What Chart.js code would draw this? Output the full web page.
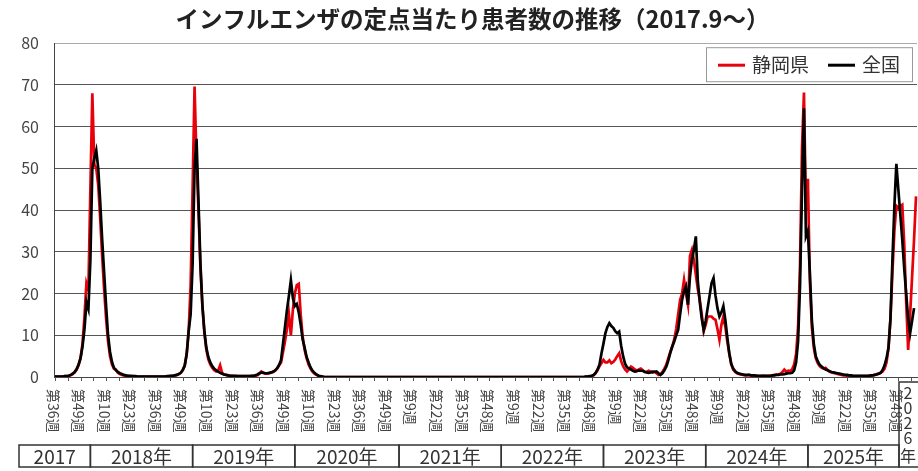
<!DOCTYPE html>
<html>
<head>
<meta charset="utf-8">
<script src="https://cdn.jsdelivr.net/npm/chart.js@4"></script>
<style>
html,body{margin:0;padding:0;background:#fff;}
#wrap{width:918px;height:471px;position:relative;}
</style>
</head>
<body>
<div id="wrap"><canvas id="c" width="918" height="471"></canvas></div>
<script>
// ---------------- DATA ----------------
const TITLE = 'インフルエンザの定点当たり患者数の推移（2017.9～）';
const SERIES_NAMES = ['静岡県', '全国'];
const YEAR_NAMES = ['2017', '2018年', '2019年', '2020年', '2021年', '2022年', '2023年', '2024年', '2025年', '2026年'];
const START_WEEK = 36;      // first week of 2017 shown
const LABEL_STEP = 13;      // a week label every 13 weeks
const Y_TICKS = [0, 10, 20, 30, 40, 50, 60, 70, 80];

// 静岡県 (weekly, per sentinel)
const shizuoka2017 = [0.1,0.1,0.1,0.1,0.1,0.2,0.2,0.3,0.4,0.7,1.1,1.7,2.8,4.5,8.0,14.5,22.5];
const shizuoka2018 = [21,45,68,51,50,46,38,29,21,14,
  8.5,5,3.0,2.0,1.8,1.0,0.7,0.5,0.4,0.3,
  0.3,0.2,0.2,0.2,0.1,0.1,0.1,0.1,0.1,0.1,
  0.1,0.1,0.1,0.1,0.1,0.1,0.1,0.1,0.1,0.1,
  0.1,0.2,0.2,0.3,0.4,0.5,0.7,1.0,1.6,2.8,
  5.5,11];
const shizuoka2019 = [22,45,69.6,52,40,26,17,10.5,6.5,4.2,
  3.0,2.2,1.6,1.3,1.5,2.8,1.0,0.6,0.5,0.4,
  0.3,0.3,0.2,0.2,0.2,0.2,0.2,0.2,0.2,0.2,
  0.2,0.2,0.3,0.3,0.4,0.8,1.3,1.0,0.8,0.8,
  0.9,1.0,1.2,1.5,2.0,2.8,3.5,6,8.5,11.5,
  15,10];
const shizuoka2020 = [16,20,22,22.3,15,9.7,6.5,4.5,3.0,2.0,
  1.3,0.8,0.5,0.3,0.1,0.1,0,0,0,0,
  0,0,0,0,0,0,0,0,0,0,
  0,0,0,0,0,0,0,0,0,0,
  0,0,0,0,0,0,0,0,0,0,
  0,0,0];
const shizuoka2021 = [0,0,0,0,0,0,0,0,0,0,
  0,0,0,0,0,0,0,0,0,0,
  0,0,0,0,0,0,0,0,0,0,
  0,0,0,0,0,0,0,0,0,0,
  0,0,0,0,0,0,0,0,0,0,
  0,0];
const shizuoka2022 = [0,0,0,0,0,0,0,0,0,0,
  0,0,0,0,0,0,0,0,0,0,
  0,0,0,0,0,0,0,0,0,0,
  0,0,0,0,0,0,0,0,0,0,
  0,0,0,0,0.1,0.1,0.1,0.2,0.4,0.9,
  1.6,2.6];
const shizuoka2023 = [3.3,4.1,3.5,3.5,4.0,3.3,3.6,4.2,5.0,5.7,
  3.8,2.6,1.8,1.3,1.8,2.5,2.2,1.8,1.5,1.8,
  2.0,1.6,1.3,1.2,1.5,1.3,1.1,1.3,0.9,0.5,
  0.7,1.2,2.0,3.0,4.5,6.0,7.3,9.0,11.5,15.0,
  18.5,20.0,23.3,20.0,17.3,29.0,30.5,28.0,24.5,21.0,
  18.5,15.0];
const shizuoka2024 = [11.0,12.5,14.5,14.5,14.5,14.0,13.7,11.5,8.9,12.5,
  14.5,12.0,8.5,5.7,3.0,1.8,1.2,0.9,0.7,0.6,
  0.5,0.4,0.4,0.5,0.4,0.3,0.3,0.3,0.2,0.2,
  0.3,0.3,0.2,0.3,0.3,0.4,0.5,0.6,0.6,0.8,
  1.2,1.8,1.3,1.5,1.4,1.9,3.0,5.5,12,27,
  55,68.2];
const shizuoka2025 = [40,47.5,23,12,7,4.5,3.3,2.6,2.2,2.0,
  2.2,1.7,1.3,1.1,1.0,0.9,0.7,0.6,0.5,0.4,
  0.4,0.3,0.3,0.2,0.2,0.2,0.2,0.2,0.2,0.2,
  0.2,0.2,0.3,0.3,0.4,0.5,0.7,0.8,1.0,1.3,
  2.0,3.5,7,14,25,35,41,40.5,41,41.3,
  32,18];
const shizuoka2026 = [6.5,15,24,33,43.3];

// 全国 (weekly, per sentinel)
const national2017 = [0.1,0.1,0.1,0.1,0.1,0.2,0.2,0.3,0.5,0.8,1.2,1.9,3.0,4.5,7.3,11.5,17.9];
const national2018 = [16.3,28,50,52.4,54.3,50,42,33,25,17,
  10,6,3.6,2.2,1.6,1.2,0.9,0.7,0.5,0.4,
  0.3,0.3,0.2,0.2,0.2,0.1,0.1,0.1,0.1,0.1,
  0.1,0.1,0.1,0.1,0.1,0.1,0.1,0.1,0.1,0.1,
  0.2,0.2,0.3,0.3,0.4,0.5,0.7,1.0,1.7,2.7,
  5.5,11.0];
const national2019 = [15,27,50,57.1,42,27,17,11,7,4.8,
  3.5,2.6,2.0,1.6,1.3,1.0,0.8,0.6,0.5,0.4,
  0.3,0.3,0.3,0.3,0.2,0.2,0.2,0.2,0.2,0.2,
  0.2,0.3,0.3,0.4,0.6,0.9,1.1,1.0,0.9,0.9,
  1.0,1.1,1.3,1.6,2.1,2.9,4.1,8,12,16,
  19.5,23.2];
const national2020 = [19,17,17.5,15.5,12.5,9,7,4.8,3.5,2.3,
  1.5,1.0,0.6,0.3,0.2,0.1,0,0,0,0,
  0,0,0,0,0,0,0,0,0,0,
  0,0,0,0,0,0,0,0,0,0,
  0,0,0,0,0,0,0,0,0,0,
  0,0,0];
const national2021 = [0,0,0,0,0,0,0,0,0,0,
  0,0,0,0,0,0,0,0,0,0,
  0,0,0,0,0,0,0,0,0,0,
  0,0,0,0,0,0,0,0,0,0,
  0,0,0,0,0,0,0,0,0,0,
  0,0];
const national2022 = [0,0,0,0,0,0,0,0,0,0,
  0,0,0,0,0,0,0,0,0,0,
  0,0,0,0,0,0,0,0,0,0,
  0,0,0,0,0,0,0,0,0,0,
  0,0,0,0,0.1,0.1,0.2,0.3,0.5,1.0,
  1.8,3.0];
const national2023 = [5.7,8.0,10.5,12.0,12.9,12.2,11.8,11.0,10.5,10.9,
  7.5,5.0,3.2,2.3,2.1,1.8,1.5,1.3,1.4,1.6,
  1.5,1.5,1.2,1.1,1.0,1.1,1.3,1.2,1.3,0.9,
  0.5,0.9,1.6,2.5,4.0,5.8,7.3,8.5,10.0,11.3,
  15.0,18.5,20.5,21.7,17.3,24.0,28.0,30.5,33.7,23.0,
  18.0,14.0];
const national2024 = [11.3,13.5,16.5,19.5,22.5,23.7,19.5,16.5,14.5,15.5,
  17.0,13.7,9.5,5.7,3.2,2.0,1.4,1.0,0.8,0.7,
  0.6,0.5,0.5,0.5,0.4,0.4,0.4,0.3,0.3,0.3,
  0.3,0.3,0.3,0.3,0.3,0.4,0.4,0.5,0.5,0.6,
  0.6,0.7,0.8,0.9,0.9,1.0,1.6,3.5,8.5,22,
  45,64.4];
const national2025 = [33.7,35,25,13.7,8,5,3.8,2.9,2.5,2.1,
  1.8,1.6,1.4,1.2,1.1,1.0,0.9,0.8,0.7,0.6,
  0.5,0.5,0.4,0.4,0.3,0.3,0.3,0.3,0.3,0.3,
  0.3,0.3,0.3,0.4,0.4,0.5,0.6,0.8,1.0,1.7,
  2.8,4.5,7,14,28,41,51.1,45,39,33,
  26,20];
const national2026 = [14,10.5,13.5,16.5,null];

const shizuokaByYear = [shizuoka2017, shizuoka2018, shizuoka2019, shizuoka2020, shizuoka2021,
  shizuoka2022, shizuoka2023, shizuoka2024, shizuoka2025, shizuoka2026];
const nationalByYear = [national2017, national2018, national2019, national2020, national2021,
  national2022, national2023, national2024, national2025, national2026];

// ---------------- BUILD ----------------
const weekLabels = [];
const yearStart = [];
shizuokaByYear.forEach((arr, k) => {
  yearStart.push(weekLabels.length);
  const w0 = k === 0 ? START_WEEK : 1;
  arr.forEach((_, j) => weekLabels.push('第' + (w0 + j) + '週'));
});
const shizuoka = [].concat(...shizuokaByYear);
const national = [].concat(...nationalByYear);

const FONT = '"Noto Sans CJK JP", "Noto Sans", sans-serif';

const decor = {
  id: 'decor',
  afterLayout(chart) {
    if (chart.titleBlock) { chart.titleBlock.left += 28; }
  },
  afterDraw(chart) {
    const ctx = chart.ctx;
    const a = chart.chartArea;
    const x = chart.scales.x;
    ctx.save();

    // small tick marks under the axis
    ctx.strokeStyle = '#555';
    ctx.lineWidth = 1;
    for (let v = 0; v <= weekLabels.length - 1; v += LABEL_STEP / 2) {
      const px = Math.round(x.getPixelForValue(v)) + 0.5;
      ctx.beginPath();
      ctx.moveTo(px, a.bottom);
      ctx.lineTo(px, a.bottom + 4);
      ctx.stroke();
    }

    // vertical week labels (rotated clockwise)
    ctx.fillStyle = '#444';
    ctx.font = '14px ' + FONT;
    ctx.textAlign = 'left';
    ctx.textBaseline = 'middle';
    for (let i = 0; i < weekLabels.length; i += LABEL_STEP) {
      const px = x.getPixelForValue(i) - 2;
      ctx.save();
      ctx.translate(px, a.bottom + 12);
      ctx.rotate(Math.PI / 2);
      ctx.fillText(weekLabels[i], 0, 0);
      ctx.restore();
    }

    // year row
    const rowTop = a.bottom + 68, rowBot = a.bottom + 90;
    const lastLeft = a.right - 18;
    const edges = [a.left - 35];
    for (let k = 1; k < YEAR_NAMES.length - 1; k++) edges.push(x.getPixelForValue(yearStart[k]) + 2);
    edges.push(lastLeft);
    ctx.strokeStyle = '#333';
    ctx.lineWidth = 1.5;
    ctx.fillStyle = '#333';
    ctx.font = '19px ' + FONT;
    ctx.textAlign = 'center';
    ctx.textBaseline = 'middle';
    for (let k = 0; k < YEAR_NAMES.length - 1; k++) {
      ctx.strokeRect(edges[k], rowTop, edges[k + 1] - edges[k], rowBot - rowTop);
      ctx.fillText(YEAR_NAMES[k], (edges[k] + edges[k + 1]) / 2, (rowTop + rowBot) / 2 + 1);
    }
    // last (vertical) year cell
    ctx.strokeRect(lastLeft, a.bottom + 5, 40, rowBot - a.bottom - 5);
    ctx.font = '16px ' + FONT;
    const chars = Array.from(YEAR_NAMES[YEAR_NAMES.length - 1]);
    chars.forEach((ch, n) => {
      ctx.fillText(ch, lastLeft + 9, a.bottom + 16 + n * 15 + (n === chars.length - 1 ? 3 : 0));
    });

    // legend box
    const lx = a.right - 211, ly = a.top + 4, lw = 206, lh = 34;
    ctx.fillStyle = '#fff';
    ctx.fillRect(lx, ly, lw, lh);
    ctx.strokeStyle = '#999';
    ctx.lineWidth = 1;
    ctx.strokeRect(lx + 0.5, ly + 0.5, lw, lh);
    const ds = chart.data.datasets;
    const cy = ly + lh / 2 + 1;
    const items = [{x: lx + 12, ds: ds[0]}, {x: lx + 122, ds: ds[1]}];
    ctx.font = '19px ' + FONT;
    ctx.textAlign = 'left';
    items.forEach(it => {
      ctx.strokeStyle = it.ds.borderColor;
      ctx.lineWidth = 3;
      ctx.beginPath();
      ctx.moveTo(it.x, cy);
      ctx.lineTo(it.x + 27, cy);
      ctx.stroke();
      ctx.fillStyle = '#333';
      ctx.fillText(it.ds.label, it.x + 34, cy);
    });
    ctx.restore();
  }
};

new Chart(document.getElementById('c'), {
  type: 'line',
  data: {
    labels: weekLabels,
    datasets: [
      { label: SERIES_NAMES[0], data: shizuoka, borderColor: '#e8000b', borderWidth: 2.7,
        pointRadius: 0, tension: 0, order: 2 },
      { label: SERIES_NAMES[1], data: national, borderColor: '#000000', borderWidth: 2.7,
        pointRadius: 0, tension: 0, order: 1 }
    ]
  },
  options: {
    responsive: false,
    animation: false,
    layout: { padding: { left: 0, right: 1, top: 0, bottom: 94 } },
    plugins: {
      legend: { display: false },
      tooltip: { enabled: false },
      title: {
        display: true, text: TITLE, color: '#222',
        font: { family: FONT, size: 23.5, weight: 'bold' },
        padding: { top: 5, bottom: 10 }
      }
    },
    scales: {
      x: {
        type: 'category', offset: true,
        grid: { display: false, drawTicks: false },
        border: { display: true, color: '#444', width: 1 },
        ticks: { display: false }
      },
      y: {
        min: 0, max: 80,
        afterBuildTicks: s => { s.ticks = Y_TICKS.map(v => ({ value: v })); },
        afterFit: s => { s.width = 54; },
        ticks: { font: { family: FONT, size: 16 }, color: '#444', padding: 15 },
        grid: { drawTicks: false, color: c => (c.tick && c.tick.value === 80 ? '#aaa' : '#555') },
        border: { color: '#444' }
      }
    }
  },
  plugins: [decor]
});
</script>
</body>
</html>
